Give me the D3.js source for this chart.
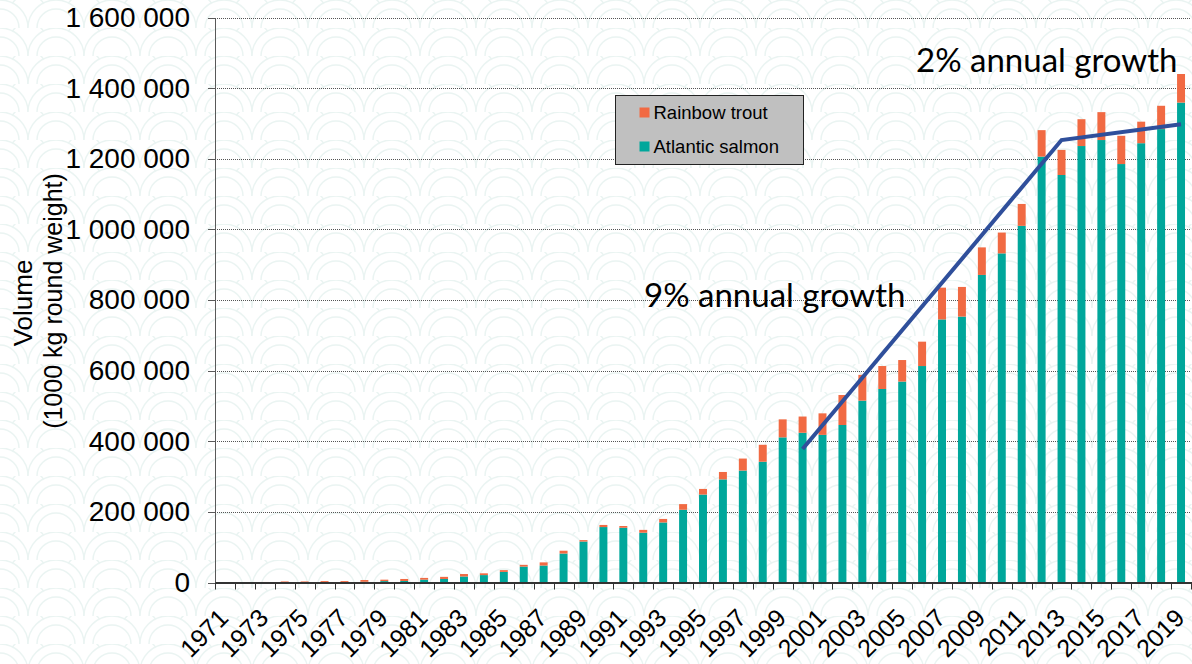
<!DOCTYPE html>
<html lang="en">
<head>
<meta charset="utf-8">
<title>Salmon and trout volume</title>
<style>
  body { margin: 0; background: #fff; }
  .axis path, .axis line { fill: none; shape-rendering: crispEdges; }
  .axis text { font-family: "Liberation Sans", Arial, sans-serif; fill: #000; }
</style>
</head>
<body>
<div id="chart"></div>
<script src="https://cdn.jsdelivr.net/npm/d3@7"></script>
<script>

// categories
var years = ["1971","1972","1973","1974","1975","1976","1977","1978","1979","1980",
  "1981","1982","1983","1984","1985","1986","1987","1988","1989","1990",
  "1991","1992","1993","1994","1995","1996","1997","1998","1999","2000",
  "2001","2002","2003","2004","2005","2006","2007","2008","2009","2010",
  "2011","2012","2013","2014","2015","2016","2017","2018","2019"];

// Atlantic salmon (1000 kg round weight)
var salmon = [100, 200, 300, 500, 700, 1000, 1200, 2000, 4000, 4300,
  8000, 10000, 17000, 21000, 30000, 45000, 48000, 82000, 116000, 157000,
  155000, 141000, 170000, 206000, 249000, 292000, 317000, 342000, 411000, 424000,
  418000, 446000, 515000, 548000, 569000, 613000, 745000, 753000, 871000, 932000,
  1010000, 1206000, 1154000, 1236000, 1253000, 1185000, 1244000, 1284000, 1359000];

// Rainbow trout (1000 kg round weight)
var trout = [900, 1000, 1200, 2500, 2300, 3000, 2800, 5000, 4000, 5700,
  5000, 6000, 7000, 5000, 5000, 5000, 9000, 8000, 4000, 6000,
  5000, 8000, 10000, 16000, 16000, 21000, 34000, 48000, 51000, 46000,
  61000, 85000, 73000, 65000, 61000, 69000, 90000, 84000, 78000, 59000,
  62000, 75000, 71000, 76000, 79000, 80000, 61000, 66000, 81000];

// y ticks
var yTicks = [0, 200000, 400000, 600000, 800000, 1000000, 1200000, 1400000, 1600000];

// growth trend line
var trendYears = ["2000", "2013", "2019"];
var trendValues = [378000, 1253000, 1298000];

var W = 1192, H = 664;
var pLeft = 215, pRight = 1191, pTop = 17.5, pBottom = 582.5;
var teal = "#00a79b", orange = "#f16a43";

var svg = d3.select("#chart").append("svg")
    .attr("width", W)
    .attr("height", H);

// scalloped wave background
var defs = svg.append("defs");
var pat = defs.append("pattern")
    .attr("id", "waves")
    .attr("patternUnits", "userSpaceOnUse")
    .attr("width", 56)
    .attr("height", 28);
[[0,0],[56,0],[28,14],[0,28],[56,28]].forEach(function(c) {
  [28, 19].forEach(function(r, k) {
    pat.append("circle")
      .attr("cx", c[0]).attr("cy", c[1]).attr("r", r)
      .attr("fill", k == 0 ? "#fff" : "none")
      .attr("stroke", "#eaf4f2")
      .attr("stroke-width", 1.4);
  });
});
svg.append("rect").attr("width", W).attr("height", H).attr("fill", "url(#waves)");

var x = d3.scaleBand()
    .domain(years)
    .range([pLeft, pRight])
    .paddingInner(0.6)
    .paddingOuter(0.3);

var y = d3.scaleLinear()
    .domain([0, 1600000])
    .range([pBottom, pTop]);

// dotted gridlines
svg.append("g").selectAll("line")
  .data(yTicks.slice(1))
  .enter().append("line")
    .attr("x1", pLeft).attr("x2", pRight)
    .attr("y1", function(d) { return Math.round(y(d)) + 0.5; })
    .attr("y2", function(d) { return Math.round(y(d)) + 0.5; })
    .attr("stroke", "#555")
    .attr("stroke-dasharray", "1 1");

// stacked bars
var bars = svg.append("g");
years.forEach(function(yr, i) {
  bars.append("rect")
    .attr("x", x(yr)).attr("width", x.bandwidth())
    .attr("y", y(salmon[i]))
    .attr("height", y(0) - y(salmon[i]))
    .attr("fill", teal);
  bars.append("rect")
    .attr("x", x(yr)).attr("width", x.bandwidth())
    .attr("y", y(salmon[i] + trout[i]))
    .attr("height", y(salmon[i]) - y(salmon[i] + trout[i]))
    .attr("fill", orange);
});

// y axis
var fmt = function(d) { return d3.format(",")(d).replace(/,/g, " "); };
var yAxis = svg.append("g")
    .attr("class", "axis")
    .attr("transform", "translate(" + pLeft + ",0)")
    .call(d3.axisLeft(y).tickValues(yTicks).tickSize(7).tickPadding(18).tickSizeOuter(0).tickFormat(fmt));
yAxis.selectAll("path").attr("stroke", "#595959").attr("stroke-width", 1.5);
yAxis.selectAll("line").attr("stroke", "#595959");
yAxis.selectAll("text").style("font-size", "28px");

// x axis: labels for odd years
var xAxis = svg.append("g")
    .attr("class", "axis")
    .attr("transform", "translate(0," + pBottom + ")")
    .call(d3.axisBottom(x).tickValues(years.filter(function(d, i) { return i % 2 == 0; })).tickSize(0).tickSizeOuter(0));
xAxis.select("path").attr("stroke", "#333").attr("stroke-width", 1.5);
xAxis.selectAll("text")
    .attr("y", 0).attr("dy", 0)
    .attr("text-anchor", "end")
    .attr("transform", "translate(5,37) rotate(-45)")
    .style("font-size", "25px");

// tick marks on category boundaries
var bounds = years.map(function(d) { return x(d) + x.bandwidth() / 2 - x.step() / 2; });
bounds.push(pRight);
svg.append("g").selectAll("line")
  .data(bounds)
  .enter().append("line")
    .attr("x1", function(d) { return Math.round(d) + 0.5; })
    .attr("x2", function(d) { return Math.round(d) + 0.5; })
    .attr("y1", pBottom).attr("y2", pBottom + 7)
    .attr("stroke", "#333");

// trend line
svg.append("path")
  .datum(trendYears)
  .attr("d", d3.line()
    .x(function(d) { return x(d) + x.bandwidth() / 2; })
    .y(function(d, i) { return y(trendValues[i]); }))
  .attr("fill", "none")
  .attr("stroke", "#2f4f9b")
  .attr("stroke-width", 4);

// annotations
svg.append("text")
  .attr("x", 644).attr("y", 307)
  .style("font-family", "Lato, sans-serif")
  .style("font-size", "33px")
  .text("9% annual growth");
svg.append("text")
  .attr("x", 916).attr("y", 72)
  .style("font-family", "Lato, sans-serif")
  .style("font-size", "33px")
  .text("2% annual growth");

// y axis title
svg.append("text")
  .attr("transform", "translate(32,303) rotate(-90)")
  .attr("text-anchor", "middle")
  .style("font-family", "Liberation Sans, Arial, sans-serif")
  .style("font-size", "26px")
  .text("Volume");
svg.append("text")
  .attr("transform", "translate(62,301) rotate(-90)")
  .attr("text-anchor", "middle")
  .style("font-family", "Liberation Sans, Arial, sans-serif")
  .style("font-size", "25px")
  .text("(1000 kg round weight)");

// legend
var lg = svg.append("g").attr("transform", "translate(615.5,95.5)");
lg.append("rect")
  .attr("width", 188).attr("height", 69)
  .attr("fill", "#c0c0c0")
  .attr("stroke", "#222");
var items = [["Rainbow trout", orange], ["Atlantic salmon", teal]];
lg.selectAll("g.item")
  .data(items)
  .enter().append("g")
    .attr("class", "item")
    .attr("transform", function(d, i) { return "translate(0," + (i * 34) + ")"; })
    .each(function(d) {
      var g = d3.select(this);
      g.append("rect").attr("x", 24).attr("y", 12).attr("width", 10).attr("height", 10).attr("fill", d[1]);
      g.append("text").attr("x", 38).attr("y", 23.5)
        .style("font-family", "Liberation Sans, Arial, sans-serif")
        .style("font-size", "18.5px")
        .text(d[0]);
    });

</script>
</body>
</html>
